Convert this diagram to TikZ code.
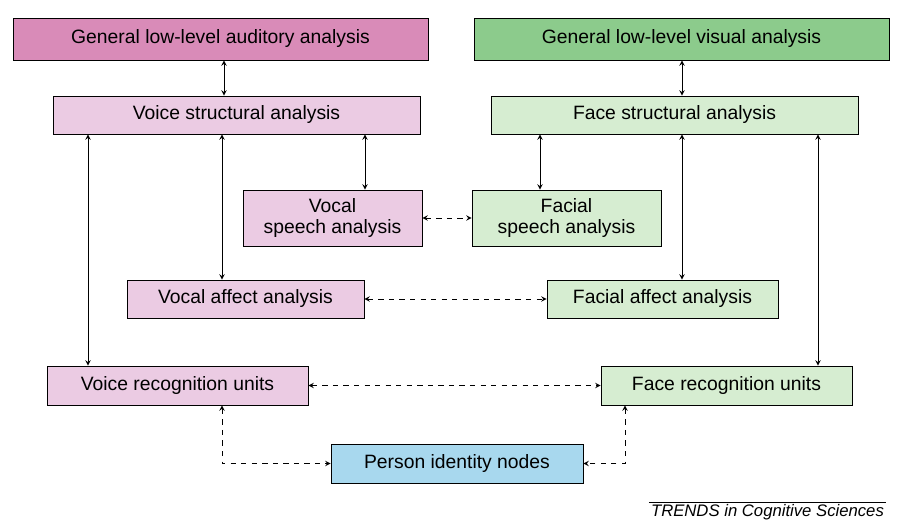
\documentclass[tikz,border=0pt]{standalone}
\usepackage{fontspec}
\setmainfont{Liberation Sans}
\usetikzlibrary{positioning}
\definecolor{audpink}{HTML}{D98BB8}
\definecolor{voicepink}{HTML}{EBCBE3}
\definecolor{visgreen}{HTML}{8CCB8C}
\definecolor{facegreen}{HTML}{D6EDD1}
\definecolor{personblue}{HTML}{A8D8EE}
\tikzset{
semithick,
>=stealth,
my box/.style={draw,rectangle,inner sep=1mm,align=center,font=\fontsize{11}{12.5}\selectfont},
aud/.style={my box,fill=audpink},
voice/.style={my box,fill=voicepink},
vis/.style={my box,fill=visgreen},
face/.style={my box,fill=facegreen},
person/.style={my box,fill=personblue},
link/.style={<->},
dlink/.style={<->,dashed}
}
\begin{document}
\begin{tikzpicture}[x=0.02cm,y=-0.02cm]
\useasboundingbox (0,0) rectangle (907,526);
\node[aud,minimum width=415\pgflinewidth*0+8.3cm,minimum height=0.84cm] (aud) at (220.5,39) {General low-level auditory analysis};
\node[vis,minimum width=8.3cm,minimum height=0.84cm] (vis) at (681.5,39) {General low-level visual analysis};
\node[voice,minimum width=7.34cm,minimum height=0.76cm] (vstruct) at (236.5,115) {Voice structural analysis};
\node[face,minimum width=7.34cm,minimum height=0.76cm] (fstruct) at (674.5,115) {Face structural analysis};
\node[voice,minimum width=3.58cm,minimum height=1.12cm] (vspeech) at (332.5,218) {Vocal\\speech analysis};
\node[face,minimum width=3.78cm,minimum height=1.12cm] (fspeech) at (566.5,218) {Facial\\speech analysis};
\node[voice,minimum width=4.74cm,minimum height=0.76cm] (vaffect) at (245.5,299) {Vocal affect analysis};
\node[face,minimum width=4.62cm,minimum height=0.76cm] (faffect) at (662.5,299) {Facial affect analysis};
\node[voice,minimum width=5.22cm,minimum height=0.78cm] (vrecog) at (177.5,385.5) {Voice recognition units};
\node[face,minimum width=5.02cm,minimum height=0.78cm] (frecog) at (726.5,385.5) {Face recognition units};
\node[person,minimum width=5.04cm,minimum height=0.78cm] (pin) at (457,463.5) {Person identity nodes};
% solid links
\draw[link] (aud.south -| 224,0) -- (vstruct.north -| 224,0);
\draw[link] (vis.south -| 682,0) -- (fstruct.north -| 682,0);
\draw[link] (vstruct.south -| vspeech.north -| 365,0) -- (vspeech.north -| 365,0);
\draw[link] (vstruct.south -| 222,0) -- (vaffect.north -| 222,0);
\draw[link] (vstruct.south -| 88,0) -- (vrecog.north -| 88,0);
\draw[link] (fstruct.south -| 540,0) -- (fspeech.north -| 540,0);
\draw[link] (fstruct.south -| 682,0) -- (faffect.north -| 682,0);
\draw[link] (fstruct.south -| 818,0) -- (frecog.north -| 818,0);
% dashed links
\draw[dlink] (vspeech) -- (fspeech);
\draw[dlink] (vaffect) -- (faffect);
\draw[dlink] (vrecog) -- (frecog);
\draw[dlink] (vrecog.south -| 222,0) |- (pin.west);
\draw[dlink] (frecog.south -| 625,0) |- (pin.east);
\node[anchor=south east,inner sep=1pt,font=\fontsize{9.5}{11}\itshape] (trends) at (886,522) {TRENDS in Cognitive Sciences};
\draw[thin] (trends.north west) -- (trends.north east);
\end{tikzpicture}
\end{document}
